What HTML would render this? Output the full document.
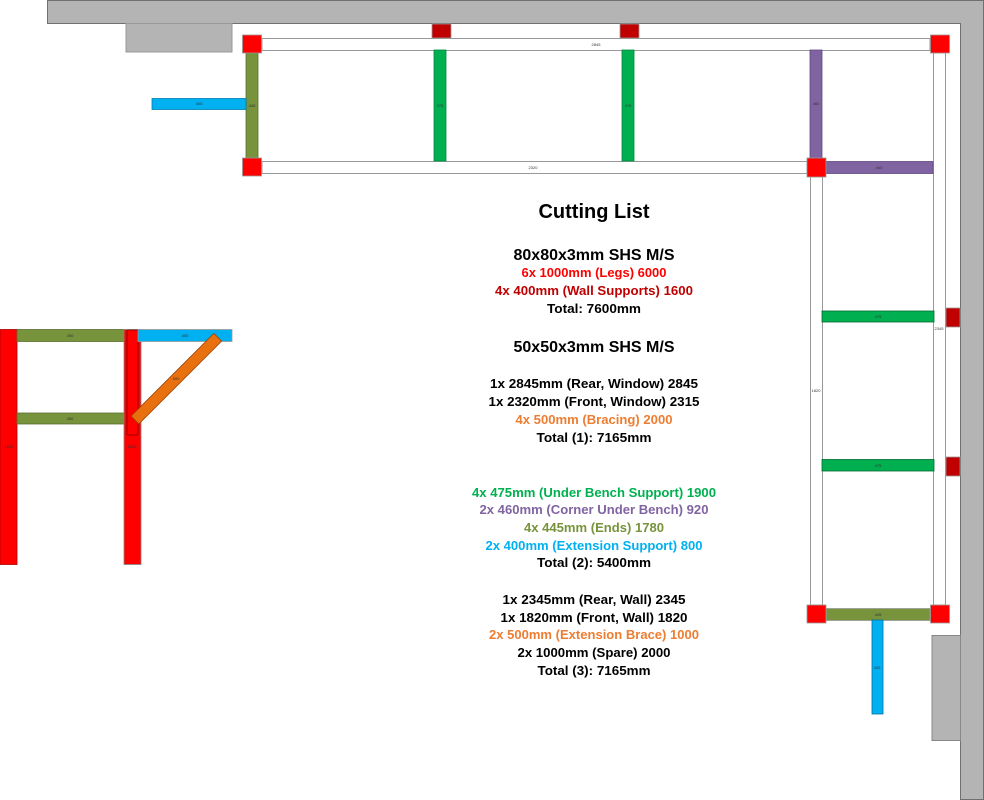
<!DOCTYPE html>
<html><head><meta charset="utf-8"><style>
html,body{margin:0;padding:0;background:#fff;}
svg{display:block;}
.t{font-family:"Liberation Sans",sans-serif;font-weight:bold;font-size:12.5px;text-anchor:middle;}
.s{font-family:"Liberation Sans",sans-serif;font-size:4px;fill:#333;text-anchor:middle;}
</style></head><body>
<svg width="984" height="800" viewBox="0 0 984 800" xmlns="http://www.w3.org/2000/svg">
<!-- walls -->
<g fill="#b4b4b4" stroke="#707070" stroke-width="1">
<polygon points="47.5,0.5 983.5,0.5 983.5,799.5 960.5,799.5 960.5,23.5 47.5,23.5"/>
<rect x="126" y="23.5" width="106" height="28.5" stroke="#999"/>
<rect x="932" y="635.5" width="28.5" height="105" stroke="#888"/>
</g>
<!-- beams (white) -->
<g fill="#fff" stroke="#999" stroke-width="1">
<rect x="262" y="38.5" width="668" height="12"/>
<rect x="262" y="161.5" width="545" height="12"/>
<rect x="810.5" y="177" width="12" height="428"/>
<rect x="933.5" y="53" width="12" height="552"/>
</g>
<text class="s" x="596" y="46">2845</text>
<text class="s" x="533" y="169">2320</text>
<text class="s" x="816" y="392">1820</text>
<text class="s" x="939" y="330">2345</text>
<!-- bars -->
<g stroke-width="0.8">
<rect x="246" y="53" width="12" height="105" fill="#77933c" stroke="#5a7030"/>
<rect x="152" y="98.5" width="94" height="11" fill="#00b0f0" stroke="#0080b0"/>
<rect x="434" y="50" width="12" height="111" fill="#00b050" stroke="#008a40"/>
<rect x="622" y="50" width="12" height="111" fill="#00b050" stroke="#008a40"/>
<rect x="810" y="50" width="12" height="111" fill="#8064a2" stroke="#604880"/>
<rect x="826" y="161.5" width="107" height="12" fill="#8064a2" stroke="#604880"/>
<rect x="822" y="311" width="112" height="11" fill="#00b050" stroke="#006a30"/>
<rect x="822" y="459.5" width="112" height="11.5" fill="#00b050" stroke="#006a30"/>
<rect x="826" y="608.5" width="104" height="12" fill="#77933c" stroke="#999"/>
<rect x="872" y="620" width="11" height="94" fill="#00b0f0" stroke="#0070a0"/>
</g>
<g class="s">
<text class="s" x="252" y="107">445</text><text class="s" x="199" y="105">400</text>
<text class="s" x="440" y="107">475</text><text class="s" x="628" y="107">475</text>
<text class="s" x="816" y="105">460</text><text class="s" x="879" y="169">460</text>
<text class="s" x="878" y="318">475</text><text class="s" x="878" y="467">475</text>
<text class="s" x="878" y="616">445</text><text class="s" x="877" y="669">400</text>
</g>
<!-- wall supports -->
<g fill="#c00000" stroke="#999" stroke-width="0.8">
<rect x="432" y="24" width="19" height="14"/>
<rect x="620" y="24" width="19" height="14"/>
<rect x="946" y="308" width="14" height="19"/>
<rect x="946" y="457" width="14" height="19"/>
</g>
<!-- legs -->
<g fill="#ff0000" stroke="#999" stroke-width="0.8">
<rect x="242.5" y="35" width="19" height="18"/>
<rect x="930.5" y="35" width="19" height="18"/>
<rect x="242.5" y="158" width="19" height="18"/>
<rect x="807" y="158" width="19" height="19"/>
<rect x="807" y="605" width="19" height="18"/>
<rect x="930.5" y="605" width="19" height="18"/>
</g>
<!-- side elevation -->
<g stroke-width="0.8">
<rect x="0" y="329.5" width="17" height="235" fill="#ff0000" stroke="#a00"/>
<rect x="17" y="329.5" width="107" height="12" fill="#77933c" stroke="#5a7030"/>
<rect x="17" y="413" width="107" height="11" fill="#77933c" stroke="#5a7030"/>
<rect x="124" y="329.5" width="17" height="235" fill="#ff0000" stroke="#888"/>
<rect x="127" y="330" width="11" height="105" rx="1" fill="none" stroke="#700"/>
<rect x="138" y="329.5" width="94" height="12" fill="#00b0f0" stroke="#999"/>
<rect x="0" y="-5.5" width="117" height="11" fill="#e8700f" stroke="#a04000" transform="translate(135,420) rotate(-45)"/>
</g>
<text class="s" x="70" y="337">450</text><text class="s" x="70" y="420">450</text>
<text class="s" x="185" y="337">400</text><text class="s" x="176" y="380">500</text>
<text class="s" x="9" y="448">1000</text><text class="s" x="132" y="448">1000</text>
<!-- text -->
<text x="594" y="218" style="font-family:'Liberation Sans',sans-serif;font-weight:bold;font-size:20px;text-anchor:middle" textLength="111" lengthAdjust="spacingAndGlyphs">Cutting List</text>
<text x="594" y="260" style="font-family:'Liberation Sans',sans-serif;font-weight:bold;font-size:16px;text-anchor:middle" textLength="161" lengthAdjust="spacingAndGlyphs">80x80x3mm SHS M/S</text>
<text class="t" x="594" y="277" fill="#ff0000" textLength="145" lengthAdjust="spacingAndGlyphs">6x 1000mm (Legs) 6000</text>
<text class="t" x="594" y="295" fill="#c00000" textLength="198" lengthAdjust="spacingAndGlyphs">4x 400mm (Wall Supports) 1600</text>
<text class="t" x="594" y="313" fill="#000" textLength="94" lengthAdjust="spacingAndGlyphs">Total: 7600mm</text>
<text x="594" y="352" style="font-family:'Liberation Sans',sans-serif;font-weight:bold;font-size:16px;text-anchor:middle" textLength="161" lengthAdjust="spacingAndGlyphs">50x50x3mm SHS M/S</text>
<text class="t" x="594" y="388" textLength="208" lengthAdjust="spacingAndGlyphs">1x 2845mm (Rear, Window) 2845</text>
<text class="t" x="594" y="406" textLength="211" lengthAdjust="spacingAndGlyphs">1x 2320mm (Front, Window) 2315</text>
<text class="t" x="594" y="424" fill="#ed7d31" textLength="157" lengthAdjust="spacingAndGlyphs">4x 500mm (Bracing) 2000</text>
<text class="t" x="594" y="442" textLength="115" lengthAdjust="spacingAndGlyphs">Total (1): 7165mm</text>
<text class="t" x="594" y="497" fill="#00b050" textLength="244" lengthAdjust="spacingAndGlyphs">4x 475mm (Under Bench Support) 1900</text>
<text class="t" x="594" y="514" fill="#8064a2" textLength="229" lengthAdjust="spacingAndGlyphs">2x 460mm (Corner Under Bench) 920</text>
<text class="t" x="594" y="532" fill="#77933c" textLength="140" lengthAdjust="spacingAndGlyphs">4x 445mm (Ends) 1780</text>
<text class="t" x="594" y="550" fill="#00b0f0" textLength="217" lengthAdjust="spacingAndGlyphs">2x 400mm (Extension Support) 800</text>
<text class="t" x="594" y="567" textLength="114" lengthAdjust="spacingAndGlyphs">Total (2): 5400mm</text>
<text class="t" x="594" y="604" textLength="183" lengthAdjust="spacingAndGlyphs">1x 2345mm (Rear, Wall) 2345</text>
<text class="t" x="594" y="622" textLength="187" lengthAdjust="spacingAndGlyphs">1x 1820mm (Front, Wall) 1820</text>
<text class="t" x="594" y="639" fill="#ed7d31" textLength="210" lengthAdjust="spacingAndGlyphs">2x 500mm (Extension Brace) 1000</text>
<text class="t" x="594" y="657" textLength="153" lengthAdjust="spacingAndGlyphs">2x 1000mm (Spare) 2000</text>
<text class="t" x="594" y="675" textLength="113" lengthAdjust="spacingAndGlyphs">Total (3): 7165mm</text>
</svg>
</body></html>
